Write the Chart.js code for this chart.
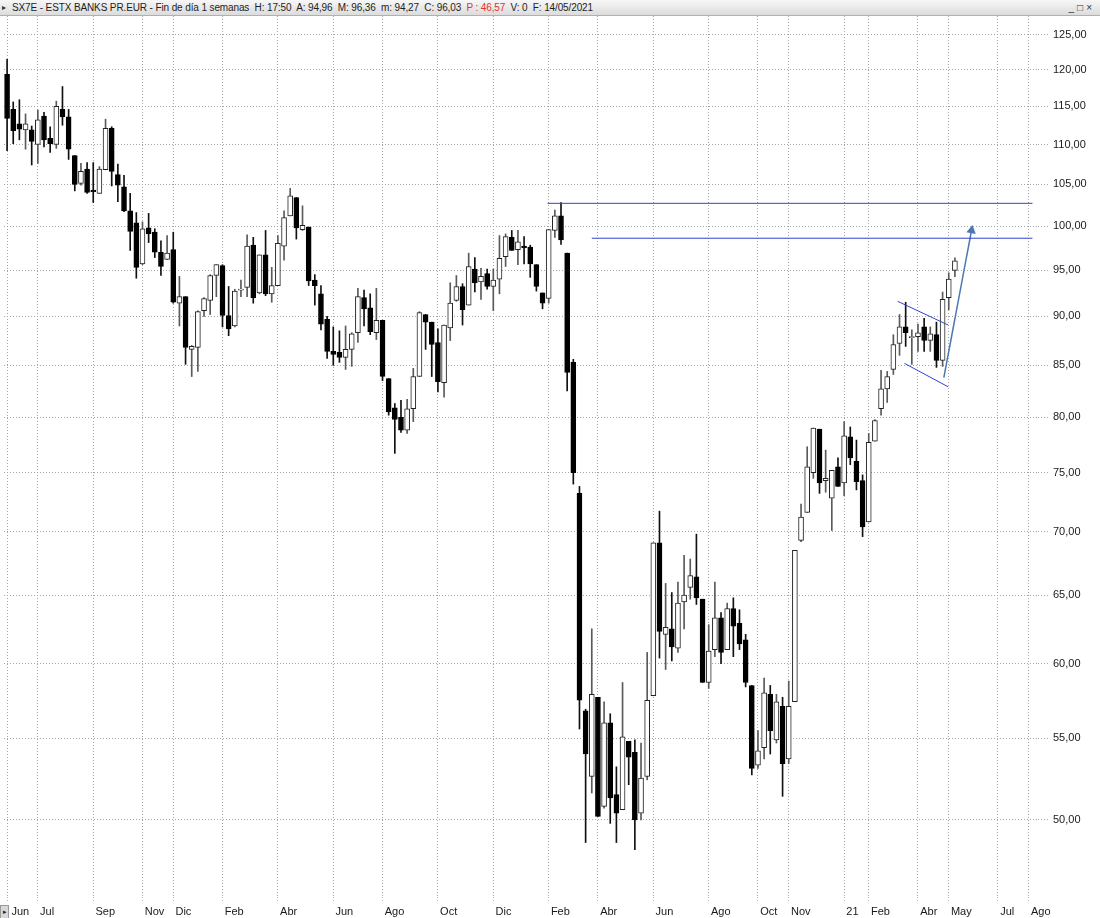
<!DOCTYPE html>
<html>
<head>
<meta charset="utf-8">
<script src="https://cdn.jsdelivr.net/npm/chart.js@4.4.0/dist/chart.umd.min.js"></script>
<style>
  html, body { margin: 0; padding: 0; background: #fff; }
  body { width: 1100px; height: 918px; overflow: hidden; position: relative; font-family: "Liberation Sans", Arial, sans-serif; }
  #hdr { position: absolute; left: 0; top: 0; width: 1100px; height: 15px; background: linear-gradient(#f7f7f7, #dcdcdc); border-bottom: 1px solid #b0b0b0; font-size: 10px; letter-spacing: -0.12px; line-height: 15px; color: #1e1e1e; white-space: nowrap; }
  #hdr .tri { position: absolute; left: 2px; top: 0; font-size: 8px; color: #333; }
  #hdr .txt { position: absolute; left: 12px; top: 0; }
  #hdr .red { color: #e8302a; }
  #hdr .btns { position: absolute; right: 5px; top: 0; font-size: 10px; color: #333; letter-spacing: 3px; }
  #wrap { position: absolute; left: 0; top: 16px; width: 1100px; height: 902px; }
  #corner { position: absolute; left: 0; top: 905px; width: 7px; height: 12px; background: #d8d8d8; border: 1px solid #9a9a9a; font-size: 7px; line-height: 12px; color: #222; text-align: center; }
</style>
</head>
<body>
<div id="hdr"><span class="tri">&#9656;</span><span class="txt">SX7E - ESTX BANKS PR.EUR - Fin de día 1 semanas&nbsp; H: 17:50&nbsp; A: 94,96&nbsp; M: 96,36&nbsp; m: 94,27&nbsp; C: 96,03&nbsp; <span class="red">P : 46,57</span>&nbsp; V: 0&nbsp; F: 14/05/2021</span><span class="btns">_&#9633;&#215;</span></div>
<div id="wrap"><canvas id="chart"></canvas></div>
<div id="corner">&#9656;</div>
<script>
// weekly bars, first one is the week ending Fri 01/06/2018, last one 14/05/2021
const totalWeeks = 168;

const open = [
  119.4, 114.6, 112.7, 111.9, 111.9, 110.0, 113.7, 110.8, 110.0, 114.6,
  113.6, 108.6, 105.1, 106.9, 104.3, 103.9, 106.8, 112.1, 106.2, 104.7,
  101.8, 100.4, 95.7, 99.8, 99.3, 97.0, 96.2, 97.3, 91.4, 92.1,
  86.6, 86.8, 90.6, 91.7, 94.4, 95.5, 90.1, 89.0, 92.8, 93.1,
  97.8, 92.5, 96.7, 92.4, 93.3, 97.7, 101.2, 103.4, 99.6, 99.9,
  93.9, 92.4, 89.7, 86.4, 86.3, 85.8, 86.6, 88.3, 92.0, 90.9,
  88.3, 89.6, 83.7, 80.9, 80.0, 78.8, 80.8, 83.9, 90.2, 89.4,
  87.3, 83.3, 88.8, 91.7, 93.2, 91.2, 95.1, 93.7, 94.6, 93.2,
  94.0, 96.5, 98.7, 97.3, 97.7, 97.6, 95.6, 92.5, 91.9, 99.5,
  101.2, 96.9, 85.3, 73.2, 56.8, 52.6, 57.7, 50.8, 56.0, 51.5,
  50.6, 54.8, 54.1, 50.4, 52.6, 57.8, 69.1, 62.1, 62.5, 61.1,
  64.5, 65.6, 66.4, 64.7, 58.7, 61.0, 63.3, 61.0, 64.0, 62.9,
  61.7, 58.5, 53.3, 54.4, 57.9, 54.9, 57.1, 53.7, 57.4, 69.3,
  71.6, 75.0, 78.9, 74.3, 72.8, 75.5, 74.1, 78.2, 76.0, 74.3,
  70.8, 77.8, 80.8, 82.7, 84.6, 87.2, 88.9, 87.8, 87.9, 88.9,
  87.5, 88.1, 85.5, 92.0, 94.96
];
const high = [
  121.5, 115.6, 115.9, 114.0, 112.4, 114.5, 114.2, 112.3, 115.7, 117.7,
  114.6, 108.6, 107.6, 107.7, 107.7, 107.2, 113.3, 112.3, 107.5, 106.1,
  103.9, 101.6, 100.5, 101.5, 99.7, 98.3, 98.9, 99.3, 94.3, 92.1,
  87.0, 90.6, 92.0, 94.5, 95.6, 95.6, 93.2, 92.9, 93.9, 99.0,
  98.7, 96.7, 99.5, 95.3, 98.9, 101.8, 104.5, 103.4, 102.4, 99.9,
  94.5, 93.3, 90.0, 88.9, 88.5, 89.0, 88.3, 93.0, 92.8, 92.4,
  93.0, 89.6, 83.7, 81.3, 81.6, 81.7, 84.7, 90.5, 90.2, 89.4,
  88.7, 89.1, 93.6, 94.4, 93.5, 96.9, 96.4, 95.2, 95.1, 95.1,
  98.9, 99.1, 99.5, 99.5, 98.8, 97.8, 95.6, 92.5, 99.6, 101.9,
  102.8, 96.9, 85.6, 73.8, 56.9, 62.5, 57.7, 57.4, 56.6, 53.2,
  58.7, 54.8, 54.9, 54.7, 60.8, 69.1, 71.7, 65.9, 65.2, 66.0,
  68.1, 67.8, 69.8, 64.7, 62.8, 66.0, 63.7, 64.4, 64.8, 63.9,
  62.1, 58.5, 55.5, 59.0, 58.5, 57.9, 57.7, 58.8, 68.5, 72.3,
  77.3, 79.0, 78.9, 77.0, 75.2, 76.3, 79.6, 79.1, 77.9, 74.8,
  78.5, 79.8, 84.5, 84.4, 88.1, 90.2, 91.5, 88.6, 89.2, 89.8,
  88.9, 89.4, 92.6, 94.7, 96.36
];
const low = [
  109.2, 110.1, 110.6, 109.4, 107.4, 107.6, 109.7, 109.0, 109.5, 112.5,
  108.1, 104.2, 104.9, 103.9, 102.8, 103.9, 106.8, 104.8, 102.9, 101.7,
  97.2, 94.1, 95.6, 98.1, 96.4, 94.4, 96.2, 91.4, 89.0, 85.1,
  83.9, 84.4, 90.0, 90.2, 92.1, 88.9, 88.0, 88.9, 92.1, 92.1,
  91.4, 92.4, 92.2, 91.5, 93.3, 96.1, 101.2, 98.5, 99.5, 93.3,
  91.2, 88.6, 85.7, 85.0, 85.3, 84.6, 84.9, 87.3, 89.0, 88.1,
  87.6, 83.5, 80.2, 76.7, 78.6, 78.5, 79.6, 83.9, 86.6, 83.9,
  82.4, 81.9, 87.5, 91.6, 89.1, 91.2, 92.6, 91.8, 92.9, 90.6,
  92.4, 95.4, 97.2, 95.6, 95.7, 94.2, 92.7, 90.8, 91.4, 98.7,
  97.9, 82.5, 74.0, 55.6, 48.7, 51.6, 50.2, 50.7, 49.8, 48.7,
  50.6, 52.1, 48.3, 50.0, 52.4, 57.8, 60.4, 59.6, 60.2, 60.8,
  62.5, 64.7, 64.3, 58.7, 58.3, 60.5, 60.0, 61.0, 60.5, 61.0,
  58.4, 52.7, 53.1, 53.7, 54.0, 54.7, 51.4, 53.4, 57.4, 69.2,
  71.6, 74.5, 73.2, 73.3, 70.1, 73.8, 73.0, 75.7, 73.5, 69.6,
  70.8, 77.8, 80.2, 81.4, 84.1, 86.0, 86.9, 85.1, 86.4, 86.4,
  86.4, 84.8, 84.9, 90.7, 94.27
];
const close = [
  113.4, 111.8, 112.0, 112.7, 110.4, 113.2, 110.6, 110.1, 115.0, 113.6,
  109.4, 105.0, 106.6, 104.0, 104.1, 106.9, 112.1, 106.6, 104.9, 101.8,
  99.4, 95.3, 99.7, 99.1, 97.0, 95.4, 96.9, 91.5, 92.1, 86.8,
  86.9, 90.5, 91.9, 94.4, 95.6, 90.1, 88.7, 92.7, 92.9, 97.7,
  92.0, 96.7, 92.4, 93.3, 98.0, 101.0, 103.6, 99.8, 100.1, 93.8,
  93.3, 89.2, 86.4, 86.1, 85.8, 86.6, 88.2, 92.1, 90.8, 88.4,
  89.6, 83.9, 80.5, 79.8, 78.8, 80.8, 83.9, 90.4, 89.4, 87.1,
  83.4, 89.1, 91.4, 93.2, 90.7, 95.4, 93.6, 94.3, 93.2, 93.9,
  96.3, 98.8, 97.2, 98.2, 97.5, 95.7, 93.2, 91.4, 99.6, 101.2,
  98.4, 84.3, 75.0, 57.5, 54.0, 57.9, 50.2, 56.0, 51.3, 50.4,
  55.1, 53.8, 50.0, 52.5, 57.5, 69.1, 62.3, 62.6, 61.2, 64.4,
  65.0, 66.5, 64.8, 58.7, 60.9, 63.3, 60.8, 64.0, 62.7, 61.4,
  58.7, 53.1, 54.2, 58.0, 55.5, 57.4, 53.4, 57.1, 68.5, 71.2,
  75.5, 79.0, 74.1, 74.5, 75.2, 73.8, 78.3, 76.3, 74.2, 70.4,
  77.7, 79.7, 82.7, 83.9, 87.1, 88.9, 88.3, 87.9, 88.3, 87.5,
  88.2, 85.5, 91.8, 94.0, 96.03
];

// month labels on the time axis: [week index, label]
const monthTickWeeks = [0, 5, 14, 22, 27, 35, 44, 53, 61, 70, 79, 88, 96, 105, 114, 122, 127, 136, 140, 148, 153, 161, 166];
const monthTickNames = ['Jun', 'Jul', 'Sep', 'Nov', 'Dic', 'Feb', 'Abr', 'Jun', 'Ago', 'Oct', 'Dic', 'Feb', 'Abr', 'Jun', 'Ago', 'Oct', 'Nov', '21', 'Feb', 'Abr', 'May', 'Jul', 'Ago'];

const priceTicks = [50, 55, 60, 65, 70, 75, 80, 85, 90, 95, 100, 105, 110, 115, 120, 125];

// drawn studies (week index, price)
const resistanceHigh = [{x: 87.8, y: 102.7}, {x: 166.6, y: 102.7}];
const resistanceLow = [{x: 95.0, y: 98.6}, {x: 166.6, y: 98.6}];
const channelUpper = [{x: 144.7, y: 91.6}, {x: 152.9, y: 89.1}];
const channelLower = [{x: 145.8, y: 85.2}, {x: 152.9, y: 82.9}];
const targetArrow = [{x: 152.2, y: 83.8}, {x: 156.7, y: 99.5}];

const weeks = [];
for (let i = 0; i < totalWeeks; i++) {
  const d = new Date(Date.UTC(2018, 5, 1 + 7 * i));
  weeks.push(d.toISOString().slice(0, 10));
}

const isDown = open.map((o, i) => close[i] < o);

Chart.defaults.font.family = '"Liberation Sans", Arial, sans-serif';
Chart.defaults.font.size = 11;
Chart.defaults.color = '#1a1a1a';

const lineSet = (data, color, width) => ({
  type: 'line',
  data: data,
  xAxisID: 'x2',
  yAxisID: 'y',
  borderColor: color,
  borderWidth: width,
  pointRadius: 0,
  pointHoverRadius: 0,
  fill: false,
  order: 0
});

const arrowSet = lineSet(targetArrow, '#4a78b4', 1.5);
arrowSet.pointRadius = [0, 4];
arrowSet.pointStyle = 'triangle';
arrowSet.pointRotation = [0, 10];
arrowSet.pointBackgroundColor = '#4a78b4';
arrowSet.pointBorderColor = '#4a78b4';

new Chart(document.getElementById('chart'), {
  type: 'bar',
  data: {
    labels: weeks,
    datasets: [
      lineSet(resistanceHigh, '#3140d2', 1),
      lineSet(resistanceLow, '#3140d2', 1),
      lineSet(channelUpper, '#3140d2', 1),
      lineSet(channelLower, '#3140d2', 1),
      arrowSet,
      {
        label: 'body',
        data: open.map((o, i) => [o, close[i]]),
        backgroundColor: isDown.map(d => d ? '#000' : '#fff'),
        borderColor: isDown.map(d => d ? '#000' : '#222'),
        borderWidth: 1,
        borderSkipped: false,
        barThickness: 5,
        minBarLength: 1,
        grouped: false,
        order: 1
      },
      {
        label: 'wick',
        data: low.map((l, i) => [l, high[i]]),
        backgroundColor: isDown.map(d => d ? '#111' : '#5a5a5a'),
        borderWidth: 0,
        barThickness: 1,
        grouped: false,
        order: 2
      }
    ]
  },
  options: {
    responsive: true,
    maintainAspectRatio: false,
    animation: false,
    events: [],
    layout: { autoPadding: false, padding: { left: 4, top: 0, right: 0, bottom: 0 } },
    plugins: {
      legend: { display: false },
      tooltip: { enabled: false }
    },
    scales: {
      x: {
        type: 'category',
        offset: true,
        border: { display: false, dash: [1, 2] },
        grid: {
          offset: false,
          color: '#a4a4a4',
          tickColor: '#b8b8b8',
          tickLength: 4,
          tickBorderDash: [1, 2]
        },
        ticks: {
          autoSkip: false,
          maxRotation: 0,
          align: 'start',
          padding: 4,
          color: '#1a1a1a',
          callback: function (value) {
            const k = monthTickWeeks.indexOf(value);
            if (k < 0) return '';
            return (k === 0 ? '\u2009\u2009' : '\u2009') + monthTickNames[k];
          }
        },
        afterBuildTicks: function (scale) {
          scale.ticks = monthTickWeeks.map(v => ({ value: v }));
        },
        afterFit: function (scale) {
          scale.height = 21;
          scale.paddingLeft = 0;
          scale.paddingRight = 0;
        }
      },
      x2: {
        type: 'linear',
        display: false,
        offset: false,
        grid: { offset: false },
        bounds: 'data',
        min: -0.5,
        max: totalWeeks - 0.5
      },
      y: {
        type: 'logarithmic',
        position: 'right',
        min: 45.7,
        max: 127.8,
        bounds: 'data',
        border: { display: false, dash: [1, 2] },
        grid: {
          color: '#a4a4a4',
          tickColor: '#a8a8a8',
          tickLength: 10,
          tickBorderDash: [1, 2]
        },
        ticks: {
          padding: 5,
          color: '#1a1a1a',
          callback: function (value) {
            return value.toFixed(2).replace('.', ',');
          }
        },
        afterBuildTicks: function (scale) {
          scale.ticks = priceTicks.map(v => ({ value: v }));
        },
        afterFit: function (scale) {
          scale.width = 62;
          scale.paddingTop = 0;
          scale.paddingBottom = 0;
        }
      }
    }
  }
});
</script>
</body>
</html>
